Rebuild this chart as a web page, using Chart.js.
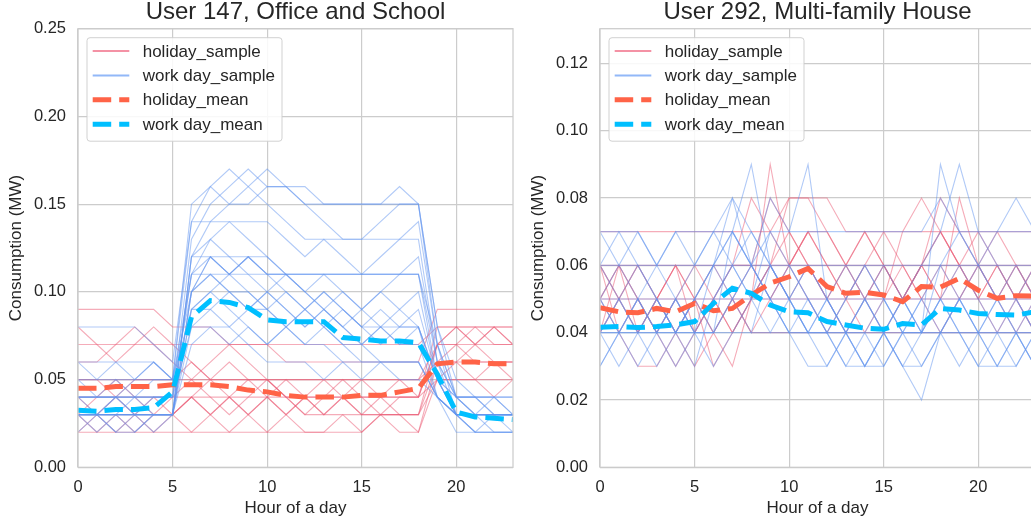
<!DOCTYPE html>
<html><head><meta charset="utf-8">
<style>
html,body{margin:0;padding:0;background:#fff;overflow:hidden;width:1031px;height:524px;position:relative}
.wrap{position:absolute;top:0;width:520px;height:524px}
canvas{display:block}
</style>
<script src="https://cdn.jsdelivr.net/npm/chart.js@4.4.0/dist/chart.umd.min.js"></script>
</head><body>
<div class="wrap" style="left:0px"><canvas id="c1" width="520" height="524"></canvas></div>
<div class="wrap" style="left:522px"><canvas id="c2" width="520" height="524"></canvas></div>
<script>
// ---------- data ----------
const HOURS = [0,1,2,3,4,5,6,7,8,9,10,11,12,13,14,15,16,17,18,19,20,21,22,23];
const X_TICKS = [0,5,10,15,20];
const LEFT_Y_TICKS = [0,0.05,0.10,0.15,0.20,0.25];
const RIGHT_Y_TICKS = [0,0.02,0.04,0.06,0.08,0.10,0.12];
const TITLES = ['User 147, Office and School','User 292, Multi-family House'];
const LEGEND_LABELS = ['holiday_sample','work day_sample','holiday_mean','work day_mean'];

// User 147 — means
const L_HOLIDAY_MEAN = [0.045,0.045,0.046,0.046,0.046,0.047,0.047,0.047,0.046,0.044,0.043,0.041,0.040,0.040,0.040,0.041,0.041,0.043,0.045,0.059,0.060,0.060,0.059,0.059];
const L_WORK_MEAN = [0.0325,0.032,0.033,0.033,0.034,0.043,0.0857,0.095,0.094,0.091,0.084,0.083,0.083,0.083,0.074,0.073,0.072,0.072,0.071,0.053,0.0315,0.0287,0.028,0.0272];

// User 147 — holiday samples
const L_H1 = [0.09,0.09,0.09,0.09,0.09,0.08,0.08,0.08,0.07,0.07,0.07,0.06,0.06,0.06,0.06,0.06,0.06,0.06,0.06,0.09,0.09,0.09,0.09,0.09];
const L_H2 = [0.07,0.07,0.07,0.07,0.07,0.07,0.07,0.07,0.07,0.07,0.07,0.07,0.07,0.07,0.07,0.07,0.07,0.07,0.07,0.08,0.08,0.08,0.08,0.08];
const L_H3 = [0.08,0.07,0.06,0.07,0.08,0.07,0.06,0.05,0.06,0.05,0.05,0.05,0.05,0.05,0.05,0.05,0.05,0.05,0.05,0.07,0.08,0.07,0.08,0.07];
const L_H4 = [0.05,0.05,0.05,0.05,0.05,0.05,0.05,0.05,0.05,0.05,0.05,0.05,0.05,0.05,0.05,0.05,0.05,0.05,0.05,0.06,0.06,0.06,0.06,0.06];
const L_H5 = [0.04,0.04,0.04,0.04,0.04,0.04,0.04,0.04,0.04,0.04,0.04,0.04,0.04,0.04,0.04,0.04,0.04,0.04,0.04,0.07,0.07,0.07,0.07,0.07];
const L_H6 = [0.03,0.03,0.03,0.03,0.03,0.03,0.04,0.03,0.04,0.03,0.04,0.03,0.04,0.03,0.04,0.03,0.03,0.03,0.03,0.07,0.08,0.07,0.08,0.07];
const L_H7 = [0.04,0.03,0.04,0.03,0.04,0.03,0.04,0.03,0.04,0.03,0.04,0.03,0.04,0.03,0.04,0.03,0.04,0.03,0.03,0.05,0.05,0.05,0.05,0.05];
const L_H8 = [0.02,0.03,0.02,0.03,0.02,0.02,0.02,0.03,0.02,0.03,0.02,0.03,0.02,0.02,0.03,0.02,0.03,0.02,0.02,0.06,0.06,0.07,0.06,0.06];
const L_H9 = [0.06,0.06,0.07,0.08,0.07,0.06,0.05,0.06,0.07,0.06,0.05,0.04,0.04,0.04,0.04,0.04,0.04,0.04,0.04,0.08,0.08,0.08,0.08,0.08];
const L_H10 = [0.03,0.04,0.05,0.04,0.03,0.04,0.05,0.04,0.03,0.04,0.05,0.04,0.03,0.04,0.05,0.04,0.03,0.04,0.04,0.05,0.05,0.05,0.04,0.05];
const L_H11 = [0.05,0.05,0.04,0.05,0.05,0.05,0.06,0.05,0.05,0.05,0.05,0.04,0.03,0.03,0.03,0.03,0.03,0.03,0.03,0.06,0.07,0.06,0.06,0.06];
const L_H12 = [0.03,0.02,0.02,0.02,0.03,0.03,0.02,0.02,0.02,0.02,0.02,0.02,0.02,0.02,0.02,0.02,0.03,0.03,0.02,0.05,0.06,0.05,0.06,0.05];
const L_H13 = [0.02,0.02,0.03,0.02,0.02,0.03,0.04,0.05,0.04,0.05,0.04,0.05,0.04,0.05,0.04,0.05,0.04,0.05,0.04,0.07,0.07,0.08,0.07,0.07];

// User 147 — work day samples
const L_W1 = [0.03,0.03,0.03,0.03,0.03,0.03,0.10,0.12,0.11,0.12,0.11,0.11,0.11,0.11,0.11,0.11,0.11,0.11,0.11,0.06,0.04,0.03,0.04,0.03];
const L_W2 = [0.03,0.03,0.03,0.03,0.03,0.03,0.10,0.12,0.11,0.12,0.11,0.11,0.11,0.11,0.11,0.11,0.11,0.11,0.11,0.07,0.04,0.04,0.03,0.03];
const L_W3 = [0.04,0.04,0.04,0.04,0.04,0.04,0.08,0.09,0.10,0.09,0.10,0.09,0.08,0.09,0.10,0.09,0.08,0.09,0.08,0.05,0.03,0.02,0.03,0.02];
const L_W4 = [0.05,0.05,0.05,0.05,0.05,0.05,0.14,0.16,0.17,0.16,0.15,0.14,0.13,0.13,0.13,0.13,0.13,0.13,0.14,0.07,0.04,0.04,0.04,0.04];
const L_W5 = [0.04,0.04,0.04,0.04,0.04,0.04,0.13,0.15,0.16,0.17,0.16,0.16,0.15,0.15,0.15,0.15,0.15,0.16,0.15,0.08,0.04,0.03,0.03,0.03];
const L_W6 = [0.03,0.03,0.03,0.03,0.03,0.03,0.12,0.14,0.15,0.16,0.17,0.16,0.15,0.14,0.13,0.13,0.14,0.15,0.15,0.07,0.03,0.03,0.03,0.03];
const L_W7 = [0.08,0.08,0.08,0.08,0.07,0.06,0.14,0.14,0.14,0.13,0.12,0.11,0.10,0.11,0.10,0.09,0.10,0.11,0.12,0.06,0.03,0.03,0.02,0.02];
const L_W8 = [0.06,0.05,0.06,0.05,0.06,0.05,0.10,0.11,0.10,0.09,0.10,0.11,0.10,0.09,0.08,0.09,0.10,0.09,0.10,0.05,0.03,0.03,0.03,0.03];
const L_W9 = [0.03,0.03,0.03,0.04,0.03,0.03,0.09,0.10,0.11,0.10,0.09,0.10,0.09,0.10,0.09,0.08,0.09,0.08,0.09,0.05,0.03,0.03,0.03,0.03];
const L_W10 = [0.04,0.03,0.04,0.03,0.04,0.04,0.11,0.12,0.11,0.12,0.11,0.10,0.09,0.08,0.07,0.06,0.06,0.06,0.06,0.04,0.02,0.02,0.02,0.02];
const L_W11 = [0.05,0.04,0.05,0.04,0.05,0.05,0.11,0.13,0.14,0.14,0.14,0.13,0.12,0.13,0.12,0.11,0.12,0.13,0.13,0.06,0.04,0.04,0.03,0.03];
const L_W12 = [0.03,0.03,0.02,0.02,0.03,0.03,0.08,0.08,0.07,0.08,0.07,0.08,0.07,0.08,0.07,0.07,0.08,0.07,0.07,0.04,0.03,0.03,0.03,0.03];
const L_W13 = [0.02,0.03,0.02,0.03,0.02,0.03,0.09,0.09,0.08,0.09,0.09,0.08,0.07,0.07,0.06,0.06,0.06,0.06,0.06,0.04,0.03,0.03,0.03,0.03];
const L_W14 = [0.03,0.03,0.03,0.03,0.03,0.03,0.12,0.12,0.12,0.12,0.12,0.11,0.10,0.09,0.08,0.07,0.06,0.05,0.05,0.04,0.03,0.02,0.02,0.02];
const L_W15 = [0.04,0.04,0.04,0.05,0.06,0.05,0.15,0.16,0.15,0.15,0.16,0.16,0.16,0.15,0.15,0.15,0.15,0.15,0.15,0.08,0.05,0.04,0.04,0.03];
const L_W16 = [0.03,0.03,0.03,0.03,0.03,0.03,0.10,0.11,0.10,0.10,0.09,0.08,0.09,0.08,0.09,0.08,0.08,0.08,0.08,0.04,0.03,0.03,0.03,0.03];
const L_W17 = [0.03,0.03,0.04,0.03,0.03,0.03,0.07,0.08,0.08,0.07,0.06,0.06,0.06,0.05,0.06,0.05,0.06,0.06,0.06,0.04,0.03,0.03,0.03,0.03];
const L_W18 = [0.04,0.04,0.04,0.04,0.04,0.04,0.11,0.11,0.11,0.11,0.11,0.11,0.11,0.11,0.11,0.11,0.11,0.11,0.11,0.05,0.04,0.04,0.04,0.04];
const L_W19 = [0.06,0.06,0.06,0.06,0.06,0.05,0.09,0.10,0.09,0.08,0.07,0.08,0.09,0.10,0.09,0.08,0.07,0.08,0.08,0.05,0.04,0.03,0.03,0.03];
const L_W20 = [0.03,0.02,0.03,0.02,0.03,0.03,0.12,0.13,0.12,0.11,0.10,0.09,0.08,0.09,0.08,0.07,0.08,0.07,0.08,0.05,0.03,0.02,0.02,0.02];

// User 292 — means
const R_HOLIDAY_MEAN = [0.0474,0.0462,0.0459,0.0472,0.0462,0.0487,0.0465,0.0472,0.0512,0.0547,0.0566,0.0591,0.0537,0.0517,0.052,0.0512,0.0492,0.0537,0.0535,0.0561,0.0526,0.0502,0.051,0.0509];
const R_WORK_MEAN = [0.0416,0.0418,0.0415,0.0418,0.0423,0.0433,0.0487,0.0532,0.0517,0.0482,0.0462,0.0459,0.0433,0.0423,0.0413,0.041,0.0427,0.0423,0.0472,0.0467,0.0457,0.0454,0.0452,0.0462];

// User 292 — holiday samples
const R_H1 = [0.07,0.07,0.07,0.07,0.07,0.07,0.07,0.07,0.07,0.07,0.08,0.08,0.08,0.07,0.07,0.07,0.07,0.07,0.07,0.07,0.07,0.07,0.07,0.07];
const R_H2 = [0.05,0.05,0.05,0.05,0.05,0.05,0.05,0.05,0.05,0.05,0.05,0.05,0.05,0.05,0.05,0.05,0.05,0.05,0.05,0.05,0.05,0.05,0.05,0.05];
const R_H3 = [0.06,0.05,0.06,0.05,0.06,0.05,0.06,0.05,0.06,0.05,0.06,0.07,0.06,0.05,0.06,0.05,0.06,0.05,0.06,0.05,0.06,0.05,0.06,0.05];
const R_H4 = [0.04,0.05,0.04,0.05,0.04,0.05,0.04,0.05,0.04,0.04,0.04,0.04,0.04,0.04,0.04,0.04,0.04,0.04,0.04,0.04,0.04,0.04,0.04,0.04];
const R_H5 = [0.06,0.04,0.03,0.03,0.04,0.05,0.03,0.04,0.05,0.06,0.07,0.06,0.05,0.04,0.05,0.06,0.05,0.06,0.05,0.06,0.05,0.06,0.05,0.06];
const R_H6 = [0.05,0.04,0.05,0.04,0.05,0.06,0.05,0.04,0.05,0.09,0.06,0.07,0.07,0.06,0.05,0.06,0.05,0.06,0.08,0.07,0.06,0.05,0.04,0.05];
const R_H7 = [0.04,0.06,0.05,0.04,0.03,0.04,0.05,0.06,0.08,0.07,0.06,0.07,0.06,0.05,0.04,0.05,0.07,0.08,0.07,0.06,0.05,0.06,0.05,0.04];
const R_H8 = [0.05,0.06,0.04,0.05,0.06,0.04,0.05,0.06,0.06,0.08,0.07,0.06,0.05,0.06,0.07,0.06,0.05,0.06,0.05,0.08,0.06,0.05,0.06,0.05];
const R_H9 = [0.06,0.06,0.06,0.06,0.06,0.06,0.06,0.06,0.06,0.06,0.06,0.06,0.06,0.06,0.06,0.06,0.06,0.06,0.06,0.06,0.06,0.06,0.06,0.06];
const R_H10 = [0.04,0.05,0.06,0.05,0.04,0.03,0.04,0.05,0.04,0.05,0.06,0.05,0.04,0.05,0.06,0.07,0.06,0.05,0.04,0.05,0.06,0.07,0.06,0.05];
const R_H11 = [0.06,0.05,0.04,0.05,0.06,0.05,0.04,0.03,0.05,0.06,0.08,0.08,0.07,0.06,0.07,0.06,0.05,0.06,0.07,0.06,0.05,0.04,0.05,0.06];
const R_H12 = [0.05,0.06,0.05,0.04,0.05,0.04,0.05,0.04,0.05,0.06,0.05,0.06,0.05,0.06,0.05,0.04,0.05,0.06,0.07,0.06,0.07,0.06,0.05,0.04];

// User 292 — work day samples
const R_W1 = [0.04,0.04,0.04,0.04,0.04,0.04,0.04,0.04,0.04,0.04,0.04,0.04,0.04,0.04,0.04,0.04,0.04,0.04,0.04,0.04,0.04,0.04,0.04,0.04];
const R_W2 = [0.05,0.05,0.05,0.05,0.05,0.05,0.05,0.05,0.05,0.05,0.05,0.05,0.05,0.05,0.05,0.05,0.05,0.05,0.05,0.05,0.05,0.05,0.05,0.05];
const R_W3 = [0.03,0.04,0.03,0.04,0.03,0.04,0.04,0.05,0.06,0.05,0.04,0.05,0.04,0.03,0.03,0.03,0.04,0.04,0.05,0.04,0.03,0.03,0.04,0.03];
const R_W4 = [0.07,0.06,0.07,0.06,0.07,0.06,0.07,0.08,0.07,0.06,0.05,0.04,0.04,0.03,0.04,0.03,0.04,0.03,0.04,0.03,0.04,0.05,0.04,0.03];
const R_W5 = [0.05,0.04,0.05,0.06,0.05,0.04,0.06,0.07,0.09,0.06,0.05,0.04,0.05,0.04,0.03,0.04,0.03,0.02,0.04,0.05,0.04,0.03,0.04,0.05];
const R_W6 = [0.06,0.07,0.06,0.05,0.04,0.05,0.06,0.07,0.06,0.08,0.07,0.09,0.05,0.04,0.05,0.04,0.05,0.06,0.07,0.09,0.07,0.06,0.05,0.06];
const R_W7 = [0.04,0.03,0.04,0.05,0.04,0.03,0.05,0.06,0.05,0.06,0.05,0.04,0.03,0.04,0.03,0.04,0.03,0.04,0.09,0.07,0.06,0.05,0.05,0.04];
const R_W8 = [0.04,0.05,0.06,0.05,0.04,0.05,0.06,0.08,0.06,0.05,0.06,0.05,0.04,0.05,0.06,0.05,0.04,0.05,0.06,0.05,0.04,0.03,0.03,0.04];
const R_W9 = [0.05,0.06,0.05,0.04,0.05,0.06,0.07,0.06,0.05,0.04,0.05,0.04,0.05,0.06,0.05,0.04,0.03,0.03,0.04,0.05,0.06,0.07,0.08,0.07];
const R_W10 = [0.03,0.04,0.05,0.04,0.05,0.04,0.03,0.04,0.05,0.07,0.06,0.05,0.04,0.05,0.06,0.05,0.04,0.05,0.04,0.05,0.04,0.05,0.06,0.05];
const R_W11 = [0.06,0.05,0.04,0.03,0.04,0.05,0.04,0.05,0.04,0.06,0.05,0.06,0.05,0.04,0.03,0.04,0.05,0.04,0.06,0.07,0.06,0.05,0.04,0.03];
const R_W12 = [0.04,0.04,0.04,0.04,0.04,0.04,0.04,0.07,0.06,0.05,0.04,0.04,0.04,0.04,0.04,0.05,0.04,0.04,0.04,0.04,0.04,0.04,0.04,0.04];
const R_W13 = [0.07,0.07,0.07,0.06,0.07,0.07,0.07,0.07,0.06,0.07,0.07,0.07,0.07,0.07,0.07,0.07,0.07,0.07,0.08,0.07,0.07,0.07,0.07,0.07];
const R_W14 = [0.06,0.06,0.06,0.06,0.06,0.06,0.06,0.06,0.06,0.06,0.06,0.06,0.06,0.06,0.06,0.06,0.06,0.06,0.06,0.06,0.06,0.06,0.06,0.06];
const R_W15 = [0.05,0.04,0.05,0.04,0.05,0.04,0.05,0.06,0.07,0.06,0.05,0.06,0.05,0.04,0.05,0.04,0.05,0.04,0.05,0.06,0.05,0.04,0.03,0.04];
const R_W16 = [0.04,0.05,0.04,0.05,0.04,0.05,0.06,0.05,0.06,0.05,0.04,0.03,0.03,0.04,0.05,0.06,0.05,0.04,0.05,0.04,0.03,0.04,0.05,0.04];

const L_HOLIDAY_SAMPLES = [L_H1,L_H2,L_H3,L_H4,L_H5,L_H6,L_H7,L_H8,L_H9,L_H10,L_H11,L_H12,L_H13];
const L_WORK_SAMPLES = [L_W1,L_W2,L_W3,L_W4,L_W5,L_W6,L_W7,L_W8,L_W9,L_W10,L_W11,L_W12,L_W13,L_W14,L_W15,L_W16,L_W17,L_W18,L_W19,L_W20];
const R_HOLIDAY_SAMPLES = [R_H1,R_H2,R_H3,R_H4,R_H5,R_H6,R_H7,R_H8,R_H9,R_H10,R_H11,R_H12];
const R_WORK_SAMPLES = [R_W1,R_W2,R_W3,R_W4,R_W5,R_W6,R_W7,R_W8,R_W9,R_W10,R_W11,R_W12,R_W13,R_W14,R_W15,R_W16];

// ---------- style ----------
const FONT = '"Liberation Sans", Arial, Helvetica, sans-serif';
const TEXT = '#262626';
const GRID = '#cccccc';
const HOL_SAMPLE = 'rgba(235,90,115,0.5)';
const WORK_SAMPLE = 'rgba(100,150,240,0.5)';
const HOL_SAMPLE_LEG = 'rgba(240,110,135,0.75)';
const WORK_SAMPLE_LEG = 'rgba(110,160,245,0.75)';
const HOL_MEAN = '#ff6347';
const WORK_MEAN = '#00bfff';
const DASH = [18.5, 8];

function pts(arr){ return HOURS.map((h,i)=>({x:h, y:arr[i]})); }

const framePlugin = {
  id:'frame',
  afterDatasetsDraw(chart){
    const {ctx, chartArea:a} = chart;
    ctx.save();
    ctx.strokeStyle = GRID; ctx.lineWidth = 1.25;
    ctx.strokeRect(a.left, a.top, a.right-a.left, a.bottom-a.top);
    ctx.restore();
  }
};

const legendPlugin = {
  id:'boxLegend',
  afterDraw(chart){
    const {ctx, chartArea:a} = chart;
    const bx = a.left + 9, by = a.top + 9, bw = 195, bh = 103.5, r = 3;
    ctx.save();
    ctx.beginPath();
    ctx.moveTo(bx+r, by); ctx.lineTo(bx+bw-r, by); ctx.arcTo(bx+bw, by, bx+bw, by+r, r);
    ctx.lineTo(bx+bw, by+bh-r); ctx.arcTo(bx+bw, by+bh, bx+bw-r, by+bh, r);
    ctx.lineTo(bx+r, by+bh); ctx.arcTo(bx, by+bh, bx, by+bh-r, r);
    ctx.lineTo(bx, by+r); ctx.arcTo(bx, by, bx+r, by, r);
    ctx.closePath();
    ctx.fillStyle = 'rgba(255,255,255,0.85)'; ctx.fill();
    ctx.strokeStyle = 'rgba(204,204,204,0.9)'; ctx.lineWidth = 1; ctx.stroke();
    const styles = [
      {c:HOL_SAMPLE_LEG, w:2, d:[]},
      {c:WORK_SAMPLE_LEG, w:2, d:[]},
      {c:HOL_MEAN, w:5, d:DASH},
      {c:WORK_MEAN, w:5, d:DASH}
    ];
    LEGEND_LABELS.forEach((lab,i)=>{
      const y = by + 13.3 + i*24.4;
      ctx.beginPath();
      ctx.setLineDash(styles[i].d);
      ctx.strokeStyle = styles[i].c; ctx.lineWidth = styles[i].w;
      ctx.moveTo(bx+5.7, y); ctx.lineTo(bx+42.3, y); ctx.stroke();
      ctx.setLineDash([]);
      ctx.fillStyle = TEXT; ctx.font = '17px ' + FONT;
      ctx.textBaseline = 'middle'; ctx.textAlign = 'left';
      ctx.fillText(lab, bx+55.7, y+1);
    });
    ctx.restore();
  }
};

function makeChart(id, title, holSamples, workSamples, holMean, workMean, yMax, yTicks){
  const datasets = [];
  holSamples.forEach(s=>datasets.push({data:pts(s), borderColor:HOL_SAMPLE, borderWidth:1.1, pointRadius:0, tension:0, fill:false, order:3}));
  workSamples.forEach(s=>datasets.push({data:pts(s), borderColor:WORK_SAMPLE, borderWidth:1.1, pointRadius:0, tension:0, fill:false, order:2}));
  datasets.push({data:pts(holMean), borderColor:HOL_MEAN, borderWidth:5, borderDash:DASH, pointRadius:0, tension:0, fill:false, order:1});
  datasets.push({data:pts(workMean), borderColor:WORK_MEAN, borderWidth:5, borderDash:DASH, pointRadius:0, tension:0, fill:false, order:0});
  return new Chart(document.getElementById(id), {
    type:'line',
    data:{datasets},
    options:{
      responsive:false, animation:false, events:[],
      layout:{padding:{left:0,right:7,top:0,bottom:0}},
      plugins:{
        legend:{display:false}, tooltip:{enabled:false},
        title:{display:true, text:title, fullSize:false, color:TEXT,
          font:{family:FONT, size:24, weight:'normal', lineHeight:1}, padding:{top:0,bottom:4.7}}
      },
      scales:{
        x:{type:'linear', min:0, max:23,
          afterBuildTicks: s=>{ s.ticks = X_TICKS.map(v=>({value:v})); },
          afterFit: s=>{ s.height = 56.7; },
          ticks:{autoSkip:false, maxRotation:0, padding:10, color:TEXT, font:{family:FONT,size:16.5}, callback:v=>String(v)},
          grid:{color:GRID, lineWidth:1.2, drawTicks:false},
          border:{display:false},
          title:{display:true, text:'Hour of a day', color:TEXT, font:{family:FONT,size:17}, padding:{top:0,bottom:5}}
        },
        y:{type:'linear', min:0, max:yMax,
          afterBuildTicks: s=>{ s.ticks = yTicks.map(v=>({value:v})); },
          afterFit: s=>{ s.width = 78; },
          ticks:{autoSkip:false, padding:12, color:TEXT, font:{family:FONT,size:16.5}, callback:v=>Number(v).toFixed(2)},
          grid:{color:GRID, lineWidth:1.2, drawTicks:false},
          border:{display:false},
          title:{display:true, text:'Consumption (MW)', color:TEXT, font:{family:FONT,size:17}, padding:{top:6,bottom:0}}
        }
      }
    },
    plugins:[framePlugin, legendPlugin]
  });
}

makeChart('c1', TITLES[0], L_HOLIDAY_SAMPLES, L_WORK_SAMPLES, L_HOLIDAY_MEAN, L_WORK_MEAN, 0.25, LEFT_Y_TICKS);
makeChart('c2', TITLES[1], R_HOLIDAY_SAMPLES, R_WORK_SAMPLES, R_HOLIDAY_MEAN, R_WORK_MEAN, 0.1303, RIGHT_Y_TICKS);
</script>
</body></html>
